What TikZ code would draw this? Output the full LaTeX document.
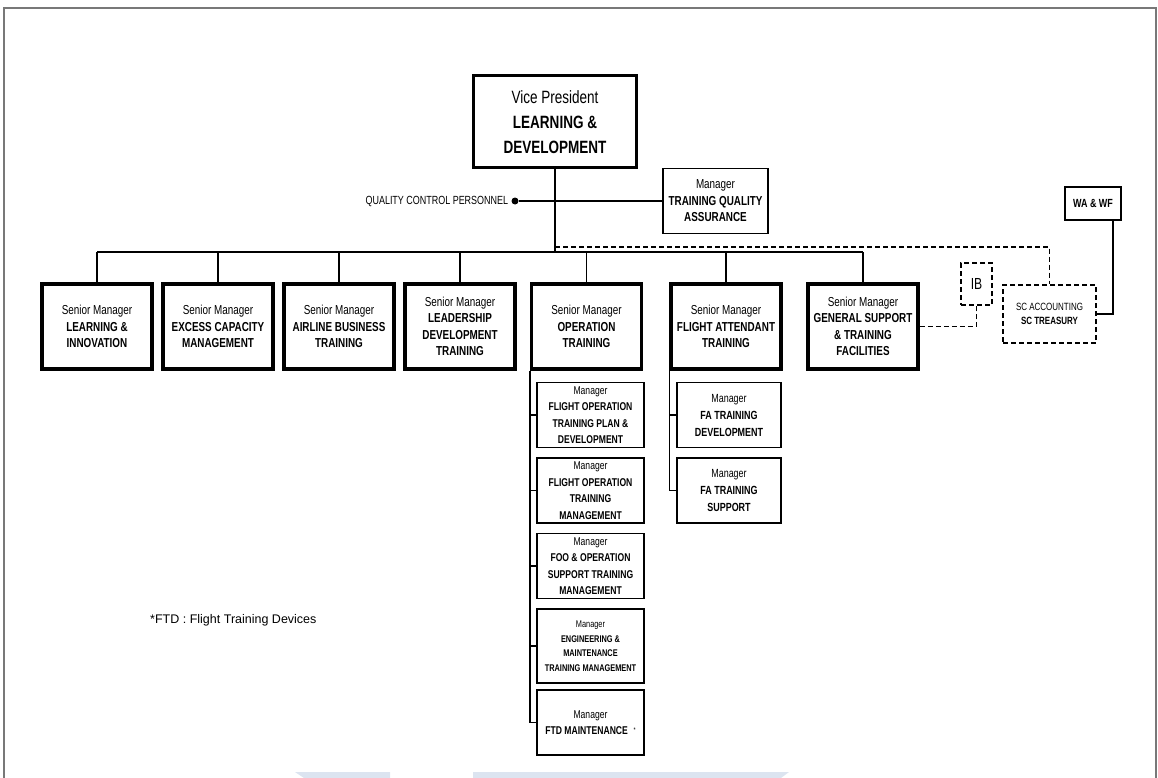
\documentclass[tikz,border=0pt]{standalone}
\usepackage{fontspec}
\setmainfont{Liberation Sans}[FakeStretch=0.76]
\newfontfamily\plainfont{Liberation Sans}
\usetikzlibrary{calc}
\definecolor{wmblue}{RGB}{220,228,240}
\definecolor{framegray}{RGB}{120,120,120}

\begin{document}
\begin{tikzpicture}[x=1pt, y=-1pt,
    smbox/.style={draw, line width=3.5pt, minimum width=110pt, minimum height=85pt, inner sep=1pt, align=center, font=\fontsize{13}{16.5}\selectfont},
    mgrbox/.style={draw, line width=1.5pt, minimum height=65pt, inner sep=1pt, align=center, font=\fontsize{11.3}{16.5}\selectfont},
    dbox/.style={draw, line width=1.5pt, dash pattern=on 5pt off 3pt, inner sep=1pt, align=center},
    link/.style={line width=1.5pt},
    dlink/.style={line width=1.5pt, dash pattern=on 5pt off 3pt}]
    \useasboundingbox (0,0) rectangle (1158,778);

    % page frame and watermark
    \draw[line width=1.5pt, framegray] (4,778) -- (4,8) -- (1156,8) -- (1156,778);
    \fill[wmblue] (295,772) -- (390,772) -- (390,778) -- (304,778) -- cycle;
    \fill[wmblue] (473,772) -- (789,772) -- (781,778) -- (473,778) -- cycle;

    % top
    \node[draw, line width=3pt, minimum width=163pt, minimum height=92pt, align=center, font=\fontsize{17.8}{25}\selectfont] (vp) at (555,122) {Vice President\\\textbf{LEARNING \&}\\\textbf{DEVELOPMENT}};
    \node[draw, line width=1.8pt, minimum width=105pt, minimum height=65pt, inner sep=1pt, align=center, font=\fontsize{13}{16.5}\selectfont] (tqa) at (715.5,201) {Manager\\\textbf{TRAINING QUALITY}\\\textbf{ASSURANCE}};
    \node[circle, fill, inner sep=0pt, minimum size=7pt] (dot) at (515,201) {};
    \node[anchor=east, inner sep=3pt, font=\fontsize{11.8}{13}\selectfont] (qc) at (dot.west) {QUALITY CONTROL PERSONNEL};

    % senior managers
    \node[smbox] (li) at (97,326.5) {Senior Manager\\\textbf{LEARNING \&}\\\textbf{INNOVATION}};
    \node[smbox] (ecm) at (218,326.5) {Senior Manager\\\textbf{EXCESS CAPACITY}\\\textbf{MANAGEMENT}};
    \node[smbox] (ab) at (339,326.5) {Senior Manager\\\textbf{AIRLINE BUSINESS}\\\textbf{TRAINING}};
    \node[smbox] (ld) at (460,326.5) {Senior Manager\\\textbf{LEADERSHIP}\\\textbf{DEVELOPMENT}\\\textbf{TRAINING}};
    \node[smbox] (ot) at (586.5,326.5) {Senior Manager\\\textbf{OPERATION}\\\textbf{TRAINING}};
    \node[smbox] (fa) at (726,326.5) {Senior Manager\\\textbf{FLIGHT ATTENDANT}\\\textbf{TRAINING}};
    \node[smbox] (gs) at (863,326.5) {Senior Manager\\\textbf{GENERAL SUPPORT}\\\textbf{\& TRAINING}\\\textbf{FACILITIES}};

    % right side
    \node[draw, line width=1.8pt, minimum width=56pt, minimum height=33pt, font=\bfseries\fontsize{11.8}{13}\selectfont] (wa) at (1093,203.5) {WA \& WF};
    \node[dbox, minimum width=31pt, minimum height=42pt, font=\fontsize{16}{18}\selectfont] (ib) at (976.5,284) {IB};
    \node[dbox, minimum width=93pt, minimum height=58pt, font=\fontsize{10.5}{14}\selectfont] (sc) at (1049.5,314) {SC ACCOUNTING\\\textbf{SC TREASURY}};

    % operation training managers
    \node[mgrbox, minimum width=107pt] (fo1) at (590.5,415) {Manager\\\textbf{FLIGHT OPERATION}\\\textbf{TRAINING PLAN \&}\\\textbf{DEVELOPMENT}};
    \node[mgrbox, minimum width=107pt] (fo2) at (590.5,490.5) {Manager\\\textbf{FLIGHT OPERATION}\\\textbf{TRAINING}\\\textbf{MANAGEMENT}};
    \node[mgrbox, minimum width=107pt] (fo3) at (590.5,566) {Manager\\\textbf{FOO \& OPERATION}\\\textbf{SUPPORT TRAINING}\\\textbf{MANAGEMENT}};
    \node[mgrbox, minimum width=107pt, minimum height=74pt, font=\fontsize{9.7}{14.5}\selectfont] (fo4) at (590.5,646) {Manager\\\textbf{ENGINEERING \&}\\\textbf{MAINTENANCE}\\\textbf{TRAINING MANAGEMENT}};
    \node[mgrbox, minimum width=107pt] (fo5) at (590.5,722.5) {Manager\\\textbf{FTD MAINTENANCE}\enspace\raisebox{2pt}{\scriptsize *}};

    % flight attendant managers
    \node[mgrbox, minimum width=104pt, font=\fontsize{11.8}{17}\selectfont] (fa1) at (729,415) {Manager\\\textbf{FA TRAINING}\\\textbf{DEVELOPMENT}};
    \node[mgrbox, minimum width=104pt, font=\fontsize{11.8}{17}\selectfont] (fa2) at (729,490.5) {Manager\\\textbf{FA TRAINING}\\\textbf{SUPPORT}};

    \node[anchor=west, inner sep=0pt, font=\plainfont\fontsize{12.5}{15}\selectfont] (ftd) at (150,620) {*FTD : Flight Training Devices};

    % lines
    \coordinate (bar) at (555,252);
    \coordinate (dj) at (555,247);
    \draw[link] (vp.south) -- (bar);
    \draw[link] (dot) -- (tqa.west);
    \draw[link] (li.north |- bar) -- (gs.north |- bar);
    \foreach \n in {li,ecm,ab,ld,ot,fa,gs}
        \draw[link] (\n.north |- bar) -- (\n.north);
    \draw[dlink] (dj) -| (sc.north);
    \draw[dlink] (gs.east) -| (ib.south);
    \draw[link] ([xshift=20pt]wa.south) |- (sc.east);

    \draw[link] (ot.south west) |- (fo5.west);
    \foreach \n in {fo1,fo2,fo3,fo4}
        \draw[link] (ot.south west |- \n.west) -- (\n.west);
    \draw[link] (fa.south west) |- (fa2.west);
    \draw[link] (fa.south west |- fa1.west) -- (fa1.west);
\end{tikzpicture}
\end{document}
